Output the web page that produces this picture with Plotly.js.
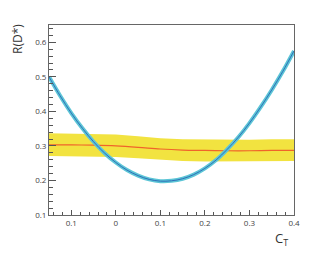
<!DOCTYPE html>
<html>
<head>
<meta charset="utf-8">
<script src="https://cdn.plot.ly/plotly-3.0.1.min.js"></script>
<style>html,body{margin:0;padding:0;background:#fff;}#chart{width:327px;height:254px;}</style>
</head>
<body>
<div id="chart"></div>
<script>
// C_T values and R(D*) predictions
const ctBlue = [-0.15,-0.125,-0.1,-0.075,-0.05,-0.025,0,0.025,0.05,0.075,0.1,0.125,0.15,0.175,0.2,0.225,0.25,0.275,0.3,0.325,0.35,0.375,0.4];
const rBlue  = [0.500,0.445,0.395,0.351,0.312,0.279,0.252,0.230,0.214,0.203,0.198,0.199,0.205,0.217,0.235,0.259,0.290,0.325,0.366,0.412,0.462,0.516,0.575];

const ctExp   = [-0.15,-0.1,-0.05,0,0.05,0.1,0.15,0.2,0.25,0.3,0.35,0.4];
const rExp    = [0.303,0.303,0.302,0.300,0.296,0.291,0.288,0.287,0.286,0.286,0.287,0.287];
const rExpHi  = [0.337,0.336,0.335,0.333,0.328,0.322,0.319,0.318,0.318,0.318,0.319,0.319];
const rExpLo  = [0.271,0.270,0.269,0.268,0.264,0.259,0.256,0.255,0.255,0.255,0.256,0.256];

const xTickVals = [-0.1,0,0.1,0.2,0.3,0.4];
const xTickText = ["0.1","0","0.1","0.2","0.3","0.4"];
const yTickVals = [0.1,0.2,0.3,0.4,0.5,0.6];
const yTickText = ["0.1","0.2","0.3","0.4","0.5","0.6"];

const traces = [
  {x: ctExp, y: rExpLo, mode:'lines', line:{width:0, color:'rgba(0,0,0,0)'}, hoverinfo:'skip', showlegend:false},
  {x: ctExp, y: rExpHi, mode:'lines', fill:'tonexty', fillcolor:'#f2e340', line:{width:0, color:'rgba(0,0,0,0)'}, hoverinfo:'skip', showlegend:false},
  {x: ctExp, y: rExp, mode:'lines', line:{width:1.2, color:'#f0642a', shape:'spline'}, showlegend:false},
  {x: ctBlue, y: rBlue, mode:'lines', line:{width:4, color:'#5cc5d6', shape:'spline'}, showlegend:false},
  {x: ctBlue, y: rBlue, mode:'lines', line:{width:1, color:'#2f6fb8', shape:'spline'}, showlegend:false}
];

const axisFont = {family:'"Open Sans", sans-serif', size:8, color:'#444'};
const layout = {
  width:327, height:254,
  margin:{l:49, r:33, t:25, b:39},
  paper_bgcolor:'#fff', plot_bgcolor:'#fff',
  showlegend:false,
  xaxis:{
    range:[-0.15,0.4], tickmode:'array', tickvals:xTickVals, ticktext:xTickText,
    ticks:'inside', ticklen:5, tickcolor:'#555', tickwidth:1,
    minor:{ticks:'inside', dtick:0.02, tick0:0, ticklen:3, tickcolor:'#555', tickwidth:1, showgrid:false},
    showgrid:false, zeroline:false, showline:true, linecolor:'#666', linewidth:1, mirror:true,
    tickfont:axisFont
  },
  yaxis:{
    range:[0.1,0.65], tickmode:'array', tickvals:yTickVals, ticktext:yTickText,
    ticks:'inside', ticklen:7, tickcolor:'#555', tickwidth:1,
    minor:{ticks:'inside', dtick:0.02, tick0:0, ticklen:4, tickcolor:'#555', tickwidth:1, showgrid:false},
    showgrid:false, zeroline:false, showline:true, linecolor:'#666', linewidth:1, mirror:true,
    tickfont:axisFont
  },
  annotations:[
    {text:'R(D*)', xref:'paper', yref:'paper', x:-0.131, y:0.926, textangle:-90, showarrow:false,
     font:{family:'"Open Sans", sans-serif', size:12, color:'#333'}, xanchor:'center', yanchor:'middle'},
    {text:'C<sub>T</sub>', xref:'paper', yref:'paper', x:0.947, y:-0.128, showarrow:false,
     font:{family:'"Open Sans", sans-serif', size:13, color:'#333'}, xanchor:'center', yanchor:'middle'}
  ]
};
Plotly.newPlot('chart', traces, layout, {displayModeBar:false, staticPlot:true});
</script>
</body>
</html>
